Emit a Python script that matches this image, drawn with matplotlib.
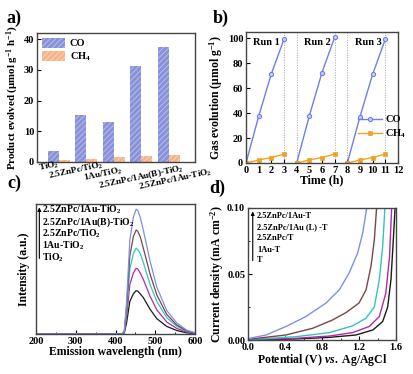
import matplotlib
matplotlib.use('Agg')
import matplotlib.pyplot as plt
from matplotlib.ticker import MultipleLocator, NullLocator

plt.rcParams.update({
    'font.family': ['Liberation Serif', 'DejaVu Serif'],
    'font.weight': 'bold',
    'axes.labelweight': 'bold',
    'mathtext.fontset': 'custom',
    'mathtext.rm': 'Liberation Serif:bold',
    'mathtext.it': 'Liberation Serif:italic:bold',
    'mathtext.bf': 'Liberation Serif:bold',
    'mathtext.default': 'rm',
    'xtick.direction': 'in', 'ytick.direction': 'in',
    'axes.linewidth': 1.0,
    'axes.edgecolor': '#444444',
    'hatch.linewidth': 0.7,
    'font.size': 7.5,
})

# ---------------- data ----------------
# (a) production rates
samples_a = ['TiO$_2$', '2.5ZnPc/TiO$_2$', '1Au/TiO$_2$',
             '2.5ZnPc/1Au(B)-TiO$_2$', '2.5ZnPc/1Au-TiO$_2$']
co_rate = [3.5, 15.4, 13.1, 31.3, 37.4]
ch4_rate = [0.8, 1.1, 1.7, 1.9, 2.2]

# (b) cycling runs
run_time = [[0, 1, 2, 3], [4, 5, 6, 7], [8, 9, 10, 11]]
run_co = [[0, 37.4, 71.5, 99.2], [0, 37.8, 72.5, 100.8], [0, 37.2, 71.2, 99.2]]
run_ch4 = [[0, 2.4, 4.4, 7.1], [0, 2.4, 4.4, 7.1], [0, 2.4, 4.4, 7.1]]
run_labels = ['Run 1', 'Run 2', 'Run 3']
run_label_x = [1.6, 5.6, 9.7]
run_breaks = [3, 4, 7, 8, 11]

# (c) PL spectra
pl_wl = [200, 415, 422, 428, 436, 445, 452, 456, 462, 470, 487, 504, 529, 554, 579, 600]
pl_tio2 = [0, 0, 0.007, 0.087, 0.25, 0.31, 0.333, 0.33, 0.31, 0.28, 0.19, 0.118, 0.058, 0.027, 0.009, 0.003]
pl_1au = [0, 0, 0.01, 0.13, 0.38, 0.47, 0.505, 0.50, 0.47, 0.42, 0.29, 0.185, 0.092, 0.043, 0.015, 0.005]
pl_znpc = [0, 0, 0.013, 0.17, 0.50, 0.62, 0.66, 0.65, 0.62, 0.55, 0.38, 0.25, 0.125, 0.06, 0.02, 0.007]
pl_znpc_aub = [0, 0, 0.016, 0.21, 0.60, 0.75, 0.80, 0.79, 0.75, 0.66, 0.46, 0.30, 0.15, 0.07, 0.024, 0.008]
pl_znpc_au = [0, 0, 0.02, 0.25, 0.72, 0.90, 0.96, 0.95, 0.90, 0.80, 0.56, 0.36, 0.18, 0.086, 0.03, 0.01]
pl_labels = ['2.5ZnPc/1Au-TiO$_2$', '2.5ZnPc/1Au(B)-TiO$_2$', '2.5ZnPc/TiO$_2$',
             '1Au-TiO$_2$', 'TiO$_2$']

# (d) LSV curves
lsv_au_v = [0, 0.195, 0.41, 0.627, 0.843, 0.987, 1.095, 1.186, 1.24, 1.283]
lsv_au_j = [0.001, 0.0038, 0.0102, 0.0178, 0.028, 0.038, 0.051, 0.066, 0.081, 0.100]
lsv_l_v = [0, 0.41, 0.70, 0.915, 1.06, 1.20, 1.276, 1.33, 1.366, 1.39]
lsv_l_j = [0.0005, 0.0038, 0.0089, 0.0152, 0.0208, 0.028, 0.038, 0.056, 0.076, 0.100]
lsv_zn_v = [0, 0.52, 0.88, 1.13, 1.276, 1.366, 1.42, 1.456, 1.48]
lsv_zn_j = [0.0003, 0.0025, 0.0056, 0.0107, 0.0165, 0.025, 0.046, 0.071, 0.100]
lsv_1au_v = [0, 0.52, 0.88, 1.13, 1.31, 1.42, 1.49, 1.53, 1.553]
lsv_1au_j = [0.0002, 0.0013, 0.003, 0.0056, 0.0102, 0.0178, 0.0355, 0.063, 0.100]
lsv_t_v = [0, 0.52, 0.88, 1.167, 1.35, 1.456, 1.51, 1.546, 1.571, 1.59]
lsv_t_j = [0.0001, 0.0008, 0.002, 0.0038, 0.0076, 0.014, 0.025, 0.046, 0.076, 0.100]
lsv_labels = ['2.5ZnPc/1Au-T', '2.5ZnPc/1Au (L) -T', '2.5ZnPc/T', '1Au-T', 'T']

c_blue = '#7f8fe3'
c_brown = '#7d4545'
c_cyan = '#35c4bd'
c_mag = '#b02aa6'
c_black = '#1a1a1a'

W, H = 414, 374
fig = plt.figure(figsize=(W / 100, H / 100), dpi=100)

def box(l, t, r, b):
    return [l / W, 1 - b / H, (r - l) / W, (b - t) / H]

# ---------------- (a) ----------------
ax = fig.add_axes(box(37, 33, 195, 162))
xs = list(range(len(samples_a)))
ax.bar([x - 0.2 for x in xs], co_rate, 0.4, color='#8892d8', edgecolor='#b7bdeb',
       hatch='//////', linewidth=0, label='CO')
ax.bar([x + 0.2 for x in xs], ch4_rate, 0.4, color='#f7b38a', edgecolor='#fcd3b8',
       hatch='//////', linewidth=0, label='CH$_4$')
ax.set_xlim(-0.8, 4.95)
ax.set_ylim(0, 42)
ax.yaxis.set_major_locator(MultipleLocator(10))
ax.set_xticks(xs)
ax.set_xticklabels([''] * len(xs))
ax.tick_params(axis='x', length=0)
ax.tick_params(axis='y', length=3, labelsize=7.5, pad=2)
ax.set_ylabel('Product evolved (μmol g$^{-1}$ h$^{-1}$)', fontsize=7.8, labelpad=2)
offs = [(-10, -4), (-11, -9), (-11, -12), (0, -15), (6, -18)]
for x, lab, (dx, dy) in zip(xs, samples_a, offs):
    ax.annotate(lab, xy=(x, 0), xycoords=('data', 'axes fraction'),
                xytext=(dx, dy), textcoords='offset pixels', rotation=12,
                ha='center', va='center', fontsize=6.6, annotation_clip=False)
ax.legend(loc='upper left', frameon=False, fontsize=7.5, handlelength=2.2,
          handleheight=1.1, borderaxespad=0.05, labelspacing=0.25, handletextpad=0.5)
fig.text(14 / W, 1 - 18 / H, 'a)', fontsize=13, fontweight='bold', ha='center', va='center')

# ---------------- (b) ----------------
ax = fig.add_axes(box(246, 32, 398, 163))
for i, (t, co, ch) in enumerate(zip(run_time, run_co, run_ch4)):
    ax.plot(t, co, '-o', color='#6f7fe6', lw=1.0, ms=3, mfc='#c9cff5', mew=0.8,
            label='CO' if i == 0 else None)
    ax.plot(t, ch, '-s', color='#f0a323', lw=1.0, ms=2.5, mfc='#f0a323', mew=0.5,
            label='CH$_4$' if i == 0 else None)
for xb in run_breaks:
    ax.axvline(xb, color='#aaaaaa', lw=0.6, ls=(0, (1.5, 1.5)), zorder=0)
for xl, lab in zip(run_label_x, run_labels):
    ax.text(xl, 96.5, lab, ha='center', va='center', fontsize=7.5)
ax.set_xlim(0, 12)
ax.set_ylim(0, 105)
ax.xaxis.set_major_locator(MultipleLocator(1))
ax.yaxis.set_major_locator(MultipleLocator(20))
ax.tick_params(length=3, labelsize=7.5, pad=2)
ax.set_xlabel('Time (h)', fontsize=8.5, labelpad=0)
ax.set_ylabel('Gas evolution (μmol g$^{-1}$)', fontsize=8.5, labelpad=2)
ax.legend(loc='center left', bbox_to_anchor=(0.71, 0.27), frameon=False, fontsize=7.5,
          handlelength=2.3, labelspacing=0.3, handletextpad=0.3, borderaxespad=0)
fig.text(221 / W, 1 - 18 / H, 'b)', fontsize=13, fontweight='bold', ha='center', va='center')

# ---------------- (c) ----------------
ax = fig.add_axes(box(36, 204, 195, 334))
ax.plot(pl_wl, pl_tio2, color=c_black, lw=0.9)
ax.plot(pl_wl, pl_1au, color=c_mag, lw=0.9)
ax.plot(pl_wl, pl_znpc, color=c_cyan, lw=0.9)
ax.plot(pl_wl, pl_znpc_aub, color=c_brown, lw=0.9)
ax.plot(pl_wl, pl_znpc_au, color=c_blue, lw=0.9)
ax.set_xlim(200, 600)
ax.set_ylim(0, 1.0)
ax.xaxis.set_major_locator(MultipleLocator(100))
ax.xaxis.set_minor_locator(MultipleLocator(50))
ax.yaxis.set_major_locator(NullLocator())
ax.tick_params(axis='x', which='major', length=3, labelsize=7.5, pad=2)
ax.tick_params(axis='x', which='minor', length=1.5)
ax.set_xlabel('Emission wavelength (nm)', fontsize=8.5, labelpad=0)
ax.set_ylabel('Intensity (a.u.)', fontsize=8.5, labelpad=4)
for k, lab in enumerate(pl_labels):
    ax.text(0.036, 1 - (6 + 12 * k) / 130, lab, transform=ax.transAxes,
            ha='left', va='center', fontsize=7)
ax.annotate('', xy=(0.021, 0.995), xytext=(0.021, 0.56), xycoords='axes fraction',
            arrowprops=dict(arrowstyle='-|>', color='black', lw=0.8, mutation_scale=5))
fig.text(14 / W, 1 - 183 / H, 'c)', fontsize=13, fontweight='bold', ha='center', va='center')

# ---------------- (d) ----------------
ax = fig.add_axes(box(248, 208, 396, 340))
ax.plot(lsv_t_v, lsv_t_j, color=c_black, lw=1.0)
ax.plot(lsv_1au_v, lsv_1au_j, color=c_mag, lw=1.0)
ax.plot(lsv_zn_v, lsv_zn_j, color=c_cyan, lw=1.0)
ax.plot(lsv_l_v, lsv_l_j, color=c_brown, lw=1.0)
ax.plot(lsv_au_v, lsv_au_j, color=c_blue, lw=1.0)
ax.set_xlim(0, 1.6)
ax.set_ylim(0, 0.10)
ax.xaxis.set_major_locator(MultipleLocator(0.4))
ax.xaxis.set_minor_locator(MultipleLocator(0.2))
ax.yaxis.set_major_locator(MultipleLocator(0.05))
ax.yaxis.set_minor_locator(MultipleLocator(0.025))
ax.xaxis.set_major_formatter(matplotlib.ticker.FormatStrFormatter('%.1f'))
ax.yaxis.set_major_formatter(matplotlib.ticker.FormatStrFormatter('%.2f'))
ax.tick_params(which='major', length=3, labelsize=7.5, pad=2)
ax.tick_params(which='minor', length=1.5)
ax.set_xlabel('Potential (V) $\\it{vs.}$ Ag/AgCl', fontsize=8.5, labelpad=0)
ax.set_ylabel('Current density (mA cm$^{-2}$)', fontsize=8.5, labelpad=1)
for k, lab in enumerate(lsv_labels):
    ax.text(0.06, 1 - (8.5 + 11 * k) / 132, lab, transform=ax.transAxes,
            ha='left', va='center', fontsize=6)
ax.annotate('', xy=(0.032, 0.995), xytext=(0.032, 0.58), xycoords='axes fraction',
            arrowprops=dict(arrowstyle='-|>', color='black', lw=0.8, mutation_scale=5))
fig.text(217 / W, 1 - 188 / H, 'd)', fontsize=13, fontweight='bold', ha='center', va='center')

fig.savefig('out.png', dpi=100)
